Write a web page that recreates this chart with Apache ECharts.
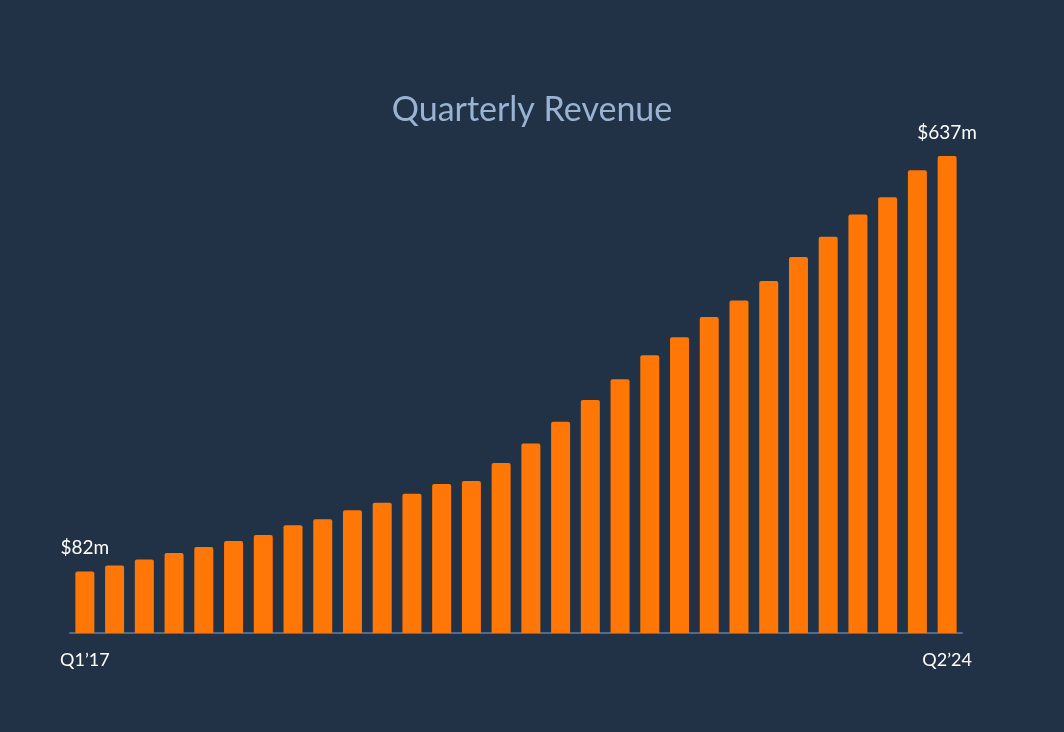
<!DOCTYPE html>
<html>
<head>
<meta charset="utf-8">
<script src="https://cdn.jsdelivr.net/npm/echarts@6/dist/echarts.min.js"></script>
<style>
  html, body { margin: 0; padding: 0; background: #213247; }
  #chart { width: 1064px; height: 732px; }
</style>
</head>
<body>
<div id="chart"></div>
<script>
'use strict';
// quarters Q1'17 .. Q2'24
var quarters = [];
var years = ['17', '18', '19', '20', '21', '22', '23', '24'];
for (var y = 0; y < years.length; y++) {
    for (var q = 1; q <= 4; q++) {
        if (years[y] === '24' && q > 2) break;
        quarters.push('Q' + q + '\u2019' + years[y]);
    }
}
// revenue, $m
var revenue = [82, 90, 98, 107, 115, 123, 131, 144, 152, 164,
    174, 186, 199, 203, 227, 253, 282, 311, 339, 371,
    395, 422, 444, 470, 502, 529, 559, 582, 618, 637];

var chart = echarts.init(document.getElementById('chart'));
var lastIdx = revenue.length - 1;

chart.setOption({
    backgroundColor: '#213247',
    textStyle: { fontFamily: 'Lato' },
    title: {
        text: 'Quarterly Revenue',
        left: 'center',
        top: 88,
        textStyle: { color: '#9bb3d3', fontSize: 34, fontWeight: 'normal', fontFamily: 'Lato' }
    },
    grid: { left: 70, right: 102, top: 156, bottom: 99 },
    xAxis: {
        type: 'category',
        data: quarters,
        axisLine: { lineStyle: { color: '#4f6b8f', width: 2 } },
        axisTick: { show: false },
        axisLabel: {
            color: '#ffffff',
            fontSize: 18,
            margin: 18,
            interval: function (i) { return i === 0 || i === lastIdx; }
        }
    },
    yAxis: {
        type: 'value',
        min: 0,
        max: 637,
        show: false,
        splitLine: { show: false }
    },
    series: [{
        type: 'bar',
        data: revenue,
        barWidth: 19,
        itemStyle: { color: '#ff7707', borderRadius: [2, 2, 0, 0] },
        label: {
            show: true,
            position: 'top',
            distance: 14,
            color: '#ffffff',
            fontSize: 19,
            formatter: function (p) {
                return (p.dataIndex === 0 || p.dataIndex === lastIdx) ? '$' + p.value + 'm' : '';
            }
        }
    }]
});
</script>
</body>
</html>
